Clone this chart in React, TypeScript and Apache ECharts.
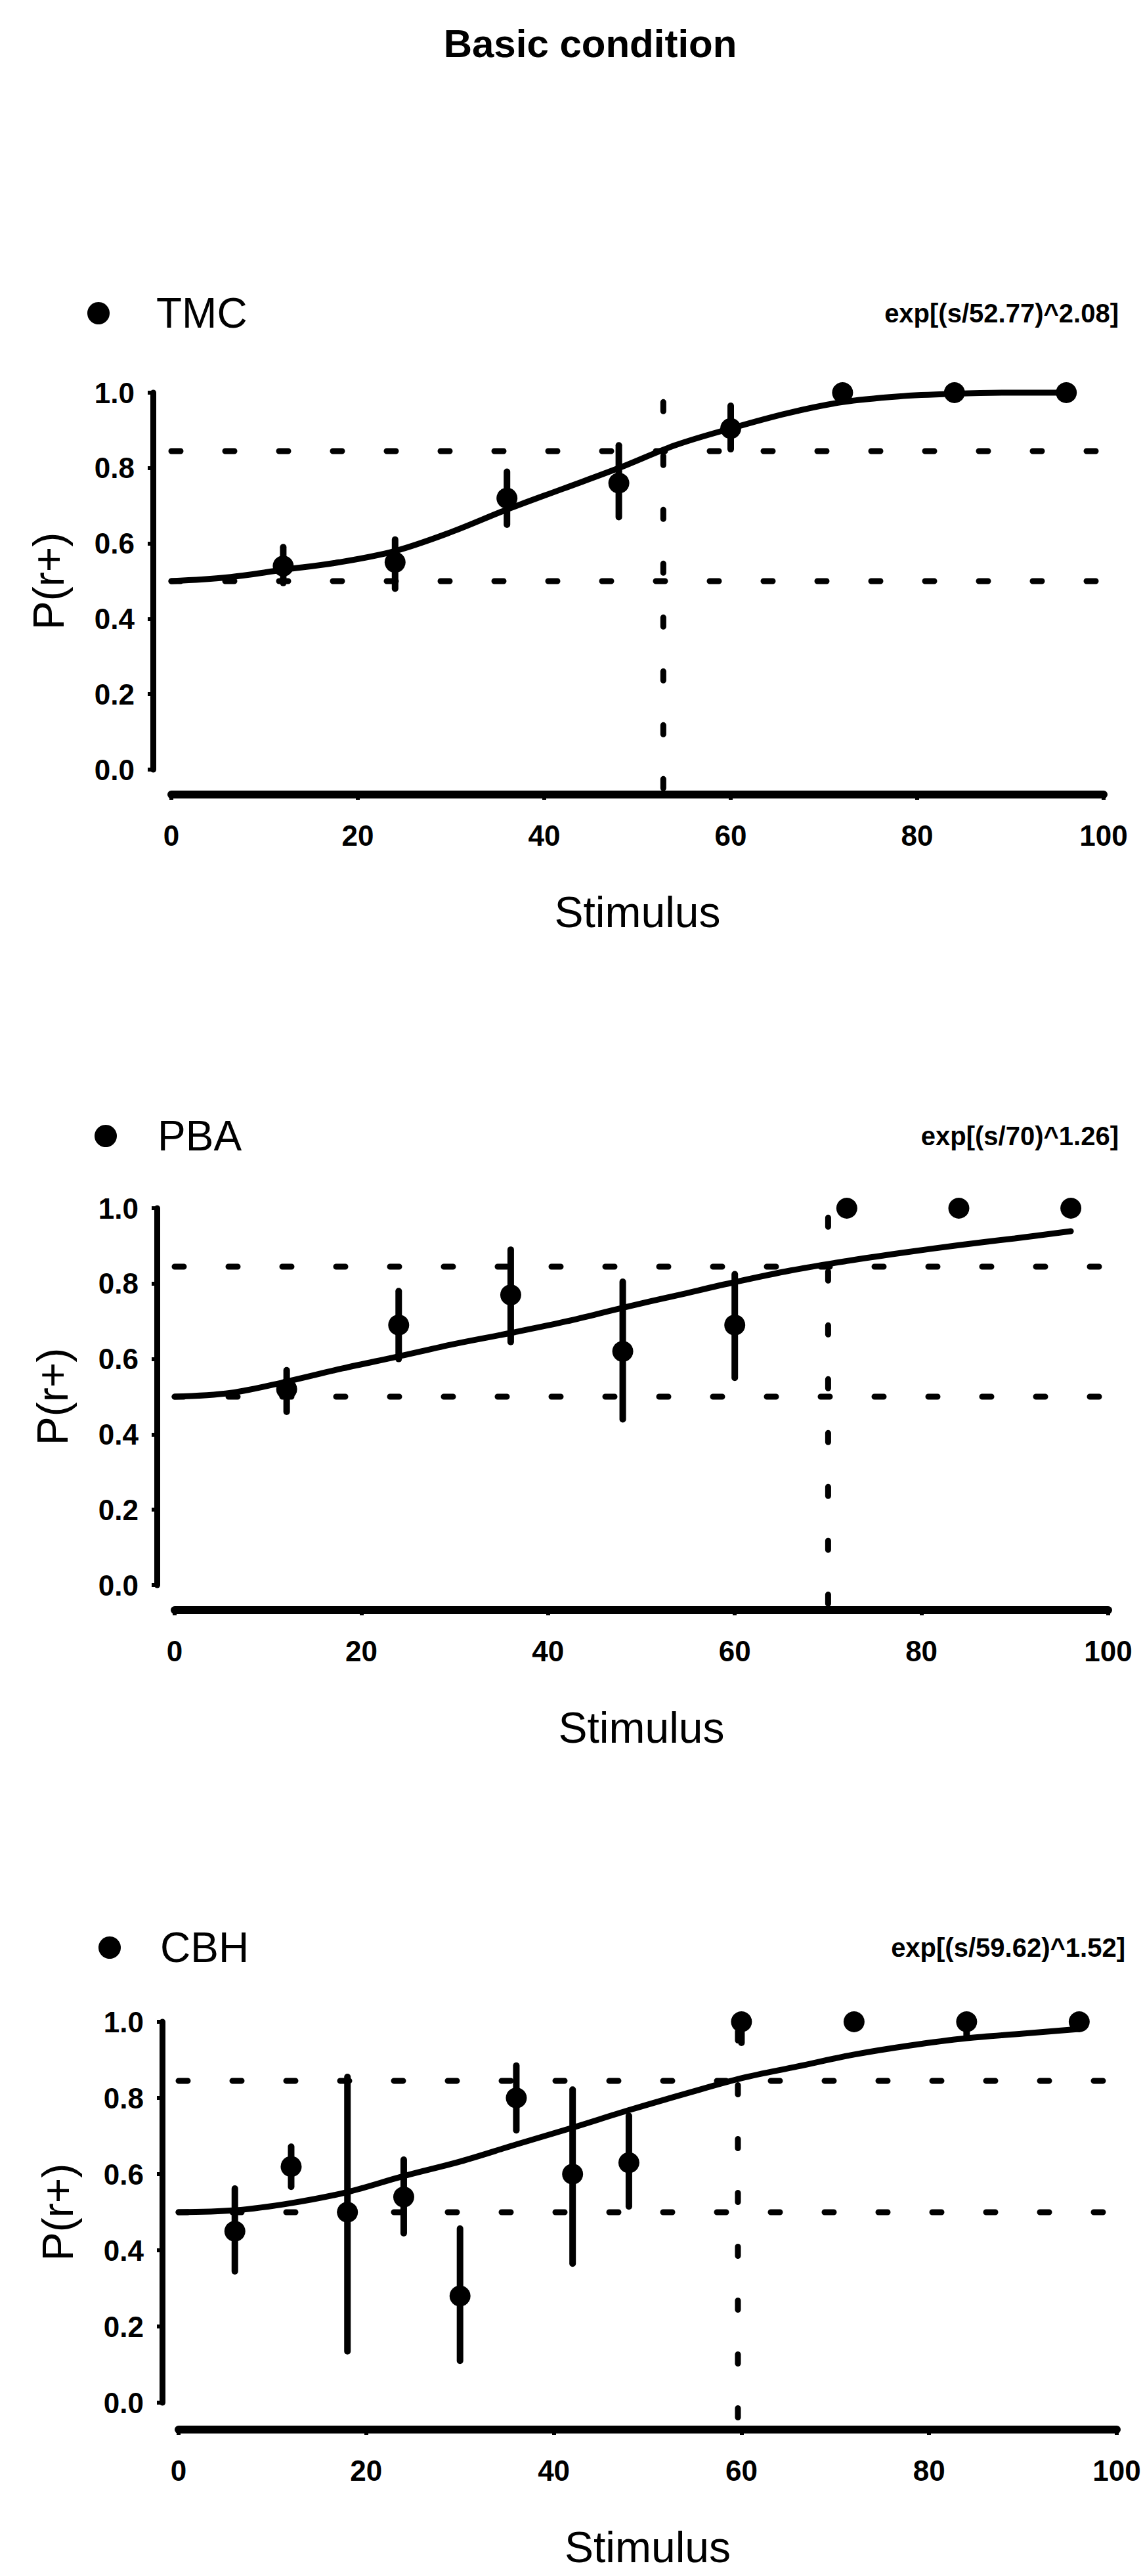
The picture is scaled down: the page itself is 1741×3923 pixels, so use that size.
import React, { useEffect, useRef } from "react";
import * as echarts from "echarts";

// ---------- data ----------
const TITLE = "Basic condition";
const SUBJECTS = ["TMC", "PBA", "CBH"];
const FORMULAS = ["exp[(s/52.77)^2.08]", "exp[(s/70)^1.26]", "exp[(s/59.62)^1.52]"];
const THRESHOLDS = [52.77, 70, 59.62];
const LEVELS = [0.5, 0.845];
const VERTICAL_SPAN = [-0.066, 0.975];

const TMC_X = [12, 24, 36, 48, 60, 72, 84, 96];
const TMC_P = [0.54, 0.55, 0.72, 0.76, 0.905, 1.0, 1.0, 1.0];
const TMC_LO = [0.495, 0.48, 0.65, 0.67, 0.85, 1.0, 1.0, 1.0];
const TMC_HI = [0.59, 0.61, 0.79, 0.86, 0.965, 1.0, 1.0, 1.0];

const PBA_X = [12, 24, 36, 48, 60, 72, 84, 96];
const PBA_P = [0.52, 0.69, 0.77, 0.62, 0.69, 1.0, 1.0, 1.0];
const PBA_LO = [0.46, 0.6, 0.645, 0.44, 0.55, 1.0, 1.0, 1.0];
const PBA_HI = [0.57, 0.78, 0.89, 0.805, 0.825, 1.0, 1.0, 1.0];

const CBH_X = [6, 12, 18, 24, 30, 36, 42, 48, 60, 72, 84, 96];
const CBH_P = [0.45, 0.62, 0.5, 0.54, 0.28, 0.8, 0.6, 0.63, 1.0, 1.0, 1.0, 1.0];
const CBH_LO = [0.345, 0.567, 0.135, 0.445, 0.11, 0.715, 0.365, 0.515, 0.945, 1.0, 0.96, 1.0];
const CBH_HI = [0.562, 0.672, 0.855, 0.638, 0.457, 0.885, 0.822, 0.753, 1.0, 1.0, 1.0, 1.0];

const CURVE_X = [0, 6, 12, 18, 24, 30, 36, 42, 48, 54, 60, 66, 72, 78, 84, 90, 96];
const TMC_CURVE = [0.5, 0.51, 0.53, 0.55, 0.58, 0.63, 0.69, 0.745, 0.8, 0.86, 0.905, 0.945, 0.975, 0.99, 0.997, 1.0, 1.0];
const PBA_CURVE = [0.5, 0.51, 0.54, 0.575, 0.607, 0.64, 0.669, 0.7, 0.736, 0.77, 0.804, 0.835, 0.86, 0.882, 0.902, 0.92, 0.939];
const CBH_CURVE = [0.5, 0.505, 0.524, 0.553, 0.595, 0.633, 0.678, 0.722, 0.768, 0.811, 0.852, 0.883, 0.914, 0.938, 0.957, 0.969, 0.981];

const PANELS = [
  { x: TMC_X, p: TMC_P, lo: TMC_LO, hi: TMC_HI, curve: TMC_CURVE },
  { x: PBA_X, p: PBA_P, lo: PBA_LO, hi: PBA_HI, curve: PBA_CURVE },
  { x: CBH_X, p: CBH_P, lo: CBH_LO, hi: CBH_HI, curve: CBH_CURVE },
];

// ---------- layout ----------
const W = 1741;
const H = 3923;
const FONT = "'Liberation Sans', Arial, Helvetica, sans-serif";
const GRIDS = [
  { left: 261, width: 1420, top: 598, height: 574, xOff: 38, yOff: 28, legendY: 477, dotX: 150, textX: 238, formulaR: 1704 },
  { left: 266, width: 1422, top: 1840, height: 574, xOff: 38, yOff: 27, legendY: 1730, dotX: 161, textX: 240, formulaR: 1704 },
  { left: 272, width: 1429, top: 3079, height: 580, xOff: 41, yOff: 25, legendY: 2966, dotX: 167, textX: 244, formulaR: 1714 },
];

const DASH = { color: "#000", width: 9, type: [14, 68] as any, cap: "round" as any };

function buildOption() {
  const grid: any[] = [];
  const xAxis: any[] = [];
  const yAxis: any[] = [];
  const series: any[] = [];
  const graphic: any[] = [];

  graphic.push({
    type: "text",
    x: 899,
    y: 66,
    style: {
      text: TITLE,
      fontSize: 60,
      fontWeight: "bold",
      fontFamily: FONT,
      fill: "#000",
      textAlign: "center",
      textVerticalAlign: "middle",
    },
  });

  PANELS.forEach((pd, i) => {
    const g = GRIDS[i];
    grid.push({ left: g.left, top: g.top, width: g.width, height: g.height, containLabel: false });
    xAxis.push({
      type: "value",
      gridIndex: i,
      min: 0,
      max: 100,
      interval: 20,
      offset: g.xOff,
      axisLine: { show: true, onZero: false, lineStyle: { color: "#000", width: 12, cap: "round" } },
      axisTick: { show: true, length: 8, lineStyle: { color: "#000", width: 6 } },
      axisLabel: { color: "#000", fontSize: 44, fontWeight: "bold", fontFamily: FONT, margin: 40 },
      splitLine: { show: false },
      name: "Stimulus",
      nameLocation: "middle",
      nameGap: 146,
      nameTextStyle: { color: "#000", fontSize: 66, fontFamily: FONT },
    });
    yAxis.push({
      type: "value",
      gridIndex: i,
      min: 0,
      max: 1,
      interval: 0.2,
      offset: g.yOff,
      axisLine: { show: true, onZero: false, lineStyle: { color: "#000", width: 9, cap: "round" } },
      axisTick: { show: true, length: 8, lineStyle: { color: "#000", width: 6 } },
      axisLabel: {
        color: "#000",
        fontSize: 44,
        fontWeight: "bold",
        fontFamily: FONT,
        margin: 28,
        formatter: (v: number) => v.toFixed(1),
      },
      splitLine: { show: false },
      name: "P(r+)",
      nameLocation: "middle",
      nameGap: 126,
      nameTextStyle: { color: "#000", fontSize: 66, fontFamily: FONT },
    });

    LEVELS.forEach((lv) => {
      series.push({
        type: "line",
        xAxisIndex: i,
        yAxisIndex: i,
        data: [
          [0, lv],
          [100, lv],
        ],
        symbol: "none",
        lineStyle: DASH,
        z: 1,
        silent: true,
      });
    });
    series.push({
      type: "line",
      xAxisIndex: i,
      yAxisIndex: i,
      clip: false,
      data: [
        [THRESHOLDS[i], VERTICAL_SPAN[1]],
        [THRESHOLDS[i], VERTICAL_SPAN[0]],
      ],
      symbol: "none",
      lineStyle: DASH,
      z: 1,
      silent: true,
    });
    series.push({
      type: "line",
      xAxisIndex: i,
      yAxisIndex: i,
      smooth: 0.35,
      clip: false,
      symbol: "none",
      data: CURVE_X.map((x, k) => [x, pd.curve[k]]),
      lineStyle: { color: "#000", width: 9, cap: "round" },
      z: 3,
    });
    series.push({
      type: "custom",
      xAxisIndex: i,
      yAxisIndex: i,
      clip: false,
      data: pd.x.map((x, k) => [x, pd.lo[k], pd.hi[k]]),
      encode: { x: 0, y: [1, 2] },
      renderItem: (params: any, api: any) => {
        const a = api.coord([api.value(0), api.value(1)]);
        const b = api.coord([api.value(0), api.value(2)]);
        return {
          type: "line",
          shape: { x1: a[0], y1: a[1], x2: b[0], y2: b[1] },
          style: { stroke: "#000", lineWidth: 10, lineCap: "round" },
        };
      },
      z: 4,
    });
    series.push({
      type: "scatter",
      xAxisIndex: i,
      yAxisIndex: i,
      clip: false,
      symbol: "circle",
      symbolSize: 32,
      data: pd.x.map((x, k) => [x, pd.p[k]]),
      itemStyle: { color: "#000", opacity: 1 },
      z: 5,
    });

    graphic.push({
      type: "circle",
      shape: { cx: g.dotX, cy: g.legendY, r: 17 },
      style: { fill: "#000" },
    });
    graphic.push({
      type: "text",
      x: g.textX,
      y: g.legendY,
      style: {
        text: SUBJECTS[i],
        fontSize: 64,
        fontFamily: FONT,
        fill: "#000",
        textAlign: "left",
        textVerticalAlign: "middle",
      },
    });
    graphic.push({
      type: "text",
      x: g.formulaR,
      y: g.legendY,
      style: {
        text: FORMULAS[i],
        fontSize: 40,
        fontWeight: "bold",
        fontFamily: FONT,
        fill: "#000",
        textAlign: "right",
        textVerticalAlign: "middle",
      },
    });
  });

  return {
    animation: false,
    backgroundColor: "#fff",
    grid,
    xAxis,
    yAxis,
    series,
    graphic,
  };
}

export default function App() {
  const ref = useRef<HTMLDivElement>(null);
  useEffect(() => {
    document.body.style.margin = "0";
    if (!ref.current) return;
    const chart = echarts.init(ref.current, undefined, { renderer: "svg", width: W, height: H });
    chart.setOption(buildOption() as any);
    return () => chart.dispose();
  }, []);
  return (
    <div
      ref={ref}
      style={{ position: "absolute", left: 0, top: 0, width: W, height: H, background: "#fff" }}
    />
  );
}
